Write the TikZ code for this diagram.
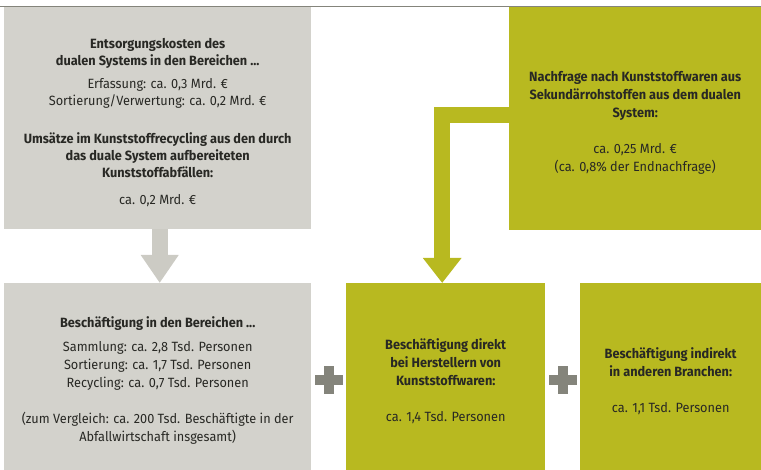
\documentclass[tikz,border=0pt]{standalone}
\usepackage{fontspec}
\setmainfont{Fira Sans}[FakeStretch=0.95]
\usetikzlibrary{arrows.meta,calc}
\definecolor{grau}{RGB}{211,210,204}
\definecolor{pfeilgrau}{RGB}{204,203,196}
\definecolor{dunkelgrau}{RGB}{132,132,123}
\definecolor{oliv}{RGB}{184,185,32}
\definecolor{schrift}{RGB}{40,40,36}
\tikzset{
  kasten/.style={anchor=north west, inner sep=0pt},
  graukasten/.style={kasten, fill=grau},
  olivkasten/.style={kasten, fill=oliv},
  kastentext/.style={inner sep=0pt, align=center, text=schrift, yshift=-4pt,
    font=\fontsize{13.4}{18}\selectfont},
}

\begin{document}
\begin{tikzpicture}[x=1pt,y=-1pt]
\useasboundingbox (0,0) rectangle (761,470);
\draw [dunkelgrau, line width=1.5pt] (0,6.5)--(761,6.5);

\node [graukasten, minimum width=307pt, minimum height=222pt] (kosten) at (4,7) {};
\node [olivkasten, minimum width=252pt, minimum height=223pt] (nachfrage) at (509,7) {};
\node [graukasten, minimum width=307pt, minimum height=187pt] (beschBereiche) at (4,283) {};
\node [olivkasten, minimum width=199pt, minimum height=187pt] (beschDirekt) at (346,283) {};
\node [olivkasten, minimum width=181pt, minimum height=187pt] (beschIndirekt) at (580,283) {};

\node [kastentext, font=\fontsize{13.4}{17}\selectfont] (kostenText) at (kosten)
  {\textbf{Entsorgungskosten des}\\
   \textbf{dualen Systems in den Bereichen ...}\\[6pt]
   Erfassung: ca. 0,3 Mrd. €\\
   Sortierung/Verwertung: ca. 0,2 Mrd. €\\[21pt]
   \textbf{Umsätze im Kunststoffrecycling aus den durch}\\
   \textbf{das duale System aufbereiteten}\\
   \textbf{Kunststoffabfällen:}\\[10pt]
   ca. 0,2 Mrd. €};
\node [kastentext] (nachfrageText) at (nachfrage)
  {\textbf{Nachfrage nach Kunststoffwaren aus}\\
   \textbf{Sekundärrohstoffen aus dem dualen}\\
   \textbf{System:}\\[18pt]
   ca. 0,25 Mrd. €\\
   (ca. 0,8\% der Endnachfrage)};
\node [kastentext] (beschBereicheText) at (beschBereiche)
  {\textbf{Beschäftigung in den Bereichen ...}\\[6pt]
   Sammlung: ca. 2,8 Tsd. Personen\\
   Sortierung: ca. 1,7 Tsd. Personen\\
   Recycling: ca. 0,7 Tsd. Personen\\[18pt]
   (zum Vergleich: ca. 200 Tsd. Beschäftigte in der\\
   Abfallwirtschaft insgesamt)};
\node [kastentext] (beschDirektText) at (beschDirekt)
  {\textbf{Beschäftigung direkt}\\
   \textbf{bei Herstellern von}\\
   \textbf{Kunststoffwaren:}\\[18pt]
   ca. 1,4 Tsd. Personen};
\node [kastentext] (beschIndirektText) at (beschIndirekt)
  {\textbf{Beschäftigung indirekt}\\
   \textbf{in anderen Branchen:}\\[18pt]
   ca. 1,1 Tsd. Personen};

\draw [pfeilgrau, line width=16pt, -{Triangle[width=36pt,length=28pt]}]
  ([xshift=2pt]kosten.south) -- ([xshift=2pt]beschBereiche.north);
\draw [oliv, line width=16pt, -{Triangle[width=37pt,length=25pt]}]
  ([yshift=3.5pt]nachfrage.west) -| ([xshift=-3.5pt]beschDirekt.north);

\coordinate (plus1) at ($(beschBereiche.east)!0.5!(beschDirekt.west)+(0,3)$);
\coordinate (plus2) at ($(beschDirekt.east)!0.5!(beschIndirekt.west)+(0,3)$);
\foreach \p in {plus1,plus2} {
  \fill [dunkelgrau] ($(\p)+(-14,-5)$) rectangle ($(\p)+(14,5)$);
  \fill [dunkelgrau] ($(\p)+(-5,-14)$) rectangle ($(\p)+(5,14)$);
}
\end{tikzpicture}
\end{document}
